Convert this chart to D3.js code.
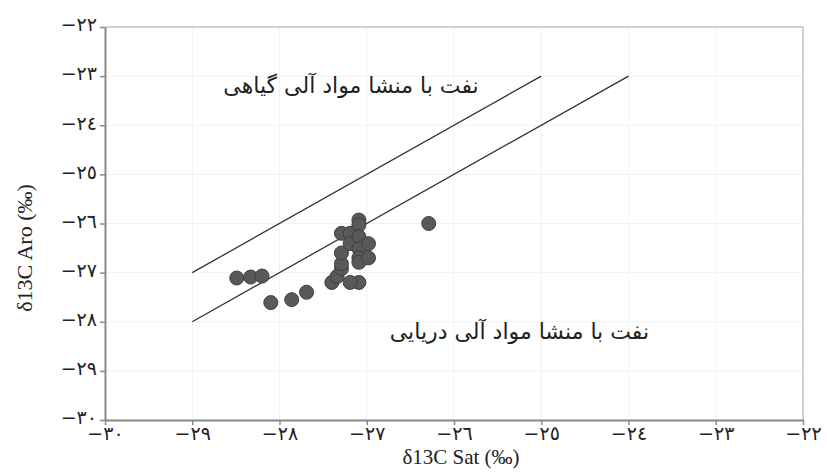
<!DOCTYPE html>
<html>
<head>
<meta charset="utf-8">
<script src="https://cdn.jsdelivr.net/npm/d3@7"></script>
<style>
  body { margin: 0; background: #fff; }
  text { font-family: "Liberation Serif", "DejaVu Serif", serif; }
</style>
</head>
<body>
<svg id="chart" width="827" height="473"></svg>
<script>
// Données
const satValues = [-28.49, -28.33, -28.20, -28.10, -27.86, -27.69, -27.40, -27.34, -27.29,
  -27.29, -27.29, -27.29, -27.19, -27.19, -27.09, -27.09, -27.09, -27.09, -27.09, -27.09,
  -27.09, -26.98, -26.98, -26.29, -27.19];
const aroValues = [-27.11, -27.09, -27.07, -27.61, -27.55, -27.40, -27.20, -27.08, -26.92,
  -26.82, -26.60, -26.20, -26.20, -26.41, -25.93, -26.03, -26.27, -26.51, -26.70, -26.79,
  -27.20, -26.41, -26.70, -26.00, -27.20];
const axisTicks = [-30, -29, -28, -27, -26, -25, -24, -23, -22];
const boundaryLines = [
  { x1: -29, y1: -27, x2: -25, y2: -23 },
  { x1: -29, y1: -28, x2: -24, y2: -23 }
];
const zoneLabels = [
  { text: "نفت با منشا مواد آلی گیاهی", x: -27.18, y: -23.35 },
  { text: "نفت با منشا مواد آلی دریایی", x: -25.25, y: -28.35 }
];

// chiffres arabes-indiens
const arabicDigits = "٠١٢٣٤٥٦٧٨٩";
function toArabic(v) {
  return "\u2212" + String(Math.abs(v)).replace(/\d/g, d => arabicDigits[+d]);
}

const svg = d3.select('#chart');
const margin = { left: 105, right: 24, top: 27, bottom: 53 };
const width = 827 - margin.left - margin.right;
const height = 473 - margin.top - margin.bottom;

const x = d3.scaleLinear().domain([-30, -22]).range([0, width]);
const y = d3.scaleLinear().domain([-30, -22]).range([height, 0]);

const g = svg.append('g').attr('transform', `translate(${margin.left},${margin.top})`);

// grille
g.append('g').selectAll('line.vg').data(axisTicks).join('line')
  .attr('x1', d => x(d)).attr('x2', d => x(d)).attr('y1', 0).attr('y2', height)
  .attr('stroke', '#f1f1f1').attr('stroke-width', 1);
g.append('g').selectAll('line.hg').data(axisTicks).join('line')
  .attr('y1', d => y(d)).attr('y2', d => y(d)).attr('x1', 0).attr('x2', width)
  .attr('stroke', '#f1f1f1').attr('stroke-width', 1);

// cadre haut / droite
g.append('path')
  .attr('d', `M0,0H${width}V${height}`)
  .attr('fill', 'none').attr('stroke', '#c4c4c4').attr('stroke-width', 1.5);

// axes
const xAxis = g.append('g').attr('transform', `translate(0,${height})`)
  .call(d3.axisBottom(x).tickValues(axisTicks).tickFormat(toArabic).tickSize(5).tickSizeOuter(0));
const yAxis = g.append('g')
  .call(d3.axisLeft(y).tickValues(axisTicks).tickFormat(toArabic).tickSize(5).tickSizeOuter(0));

[xAxis, yAxis].forEach(a => {
  a.select('.domain').attr('stroke', '#8a8a8a').attr('stroke-width', 2);
  a.selectAll('.tick line').attr('stroke', '#8a8a8a').attr('stroke-width', 1.5);
  a.selectAll('.tick text')
    .attr('fill', '#222')
    .style('font-size', '19px')
    .style('font-family', '"DejaVu Sans", "Liberation Serif", serif')
    .attr('direction', 'ltr');
});
xAxis.selectAll('.tick text').attr('y', 9).attr('dy', '0.6em');
yAxis.selectAll('.tick text').attr('x', -8).attr('dy', '0.2em');

// titres des axes
svg.append('text')
  .attr('x', 461).attr('y', 464)
  .attr('text-anchor', 'middle').attr('fill', '#222')
  .style('font-size', '21px')
  .text('δ13C Sat (‰)');
svg.append('text')
  .attr('transform', `translate(32,248) rotate(-90)`)
  .attr('text-anchor', 'middle').attr('fill', '#222')
  .style('font-size', '22px')
  .text('δ13C Aro (‰)');

// lignes de séparation
g.selectAll('line.bound').data(boundaryLines).join('line')
  .attr('x1', d => x(d.x1)).attr('y1', d => y(d.y1))
  .attr('x2', d => x(d.x2)).attr('y2', d => y(d.y2))
  .attr('stroke', '#333').attr('stroke-width', 1.3);

// points
const points = satValues.map((v, i) => ({ sat: v, aro: aroValues[i] }));
g.selectAll('circle').data(points).join('circle')
  .attr('cx', d => x(d.sat)).attr('cy', d => y(d.aro))
  .attr('r', 7)
  .attr('fill', '#595959').attr('stroke', '#3f3f3f').attr('stroke-width', 1);

// étiquettes des zones
g.selectAll('text.zone').data(zoneLabels).join('text')
  .attr('class', 'zone')
  .attr('x', d => x(d.x)).attr('y', d => y(d.y))
  .attr('text-anchor', 'middle').attr('direction', 'rtl')
  .attr('fill', '#222')
  .style('font-size', '22px')
  .style('font-family', '"DejaVu Sans", serif')
  .text(d => d.text);
</script>
</body>
</html>
